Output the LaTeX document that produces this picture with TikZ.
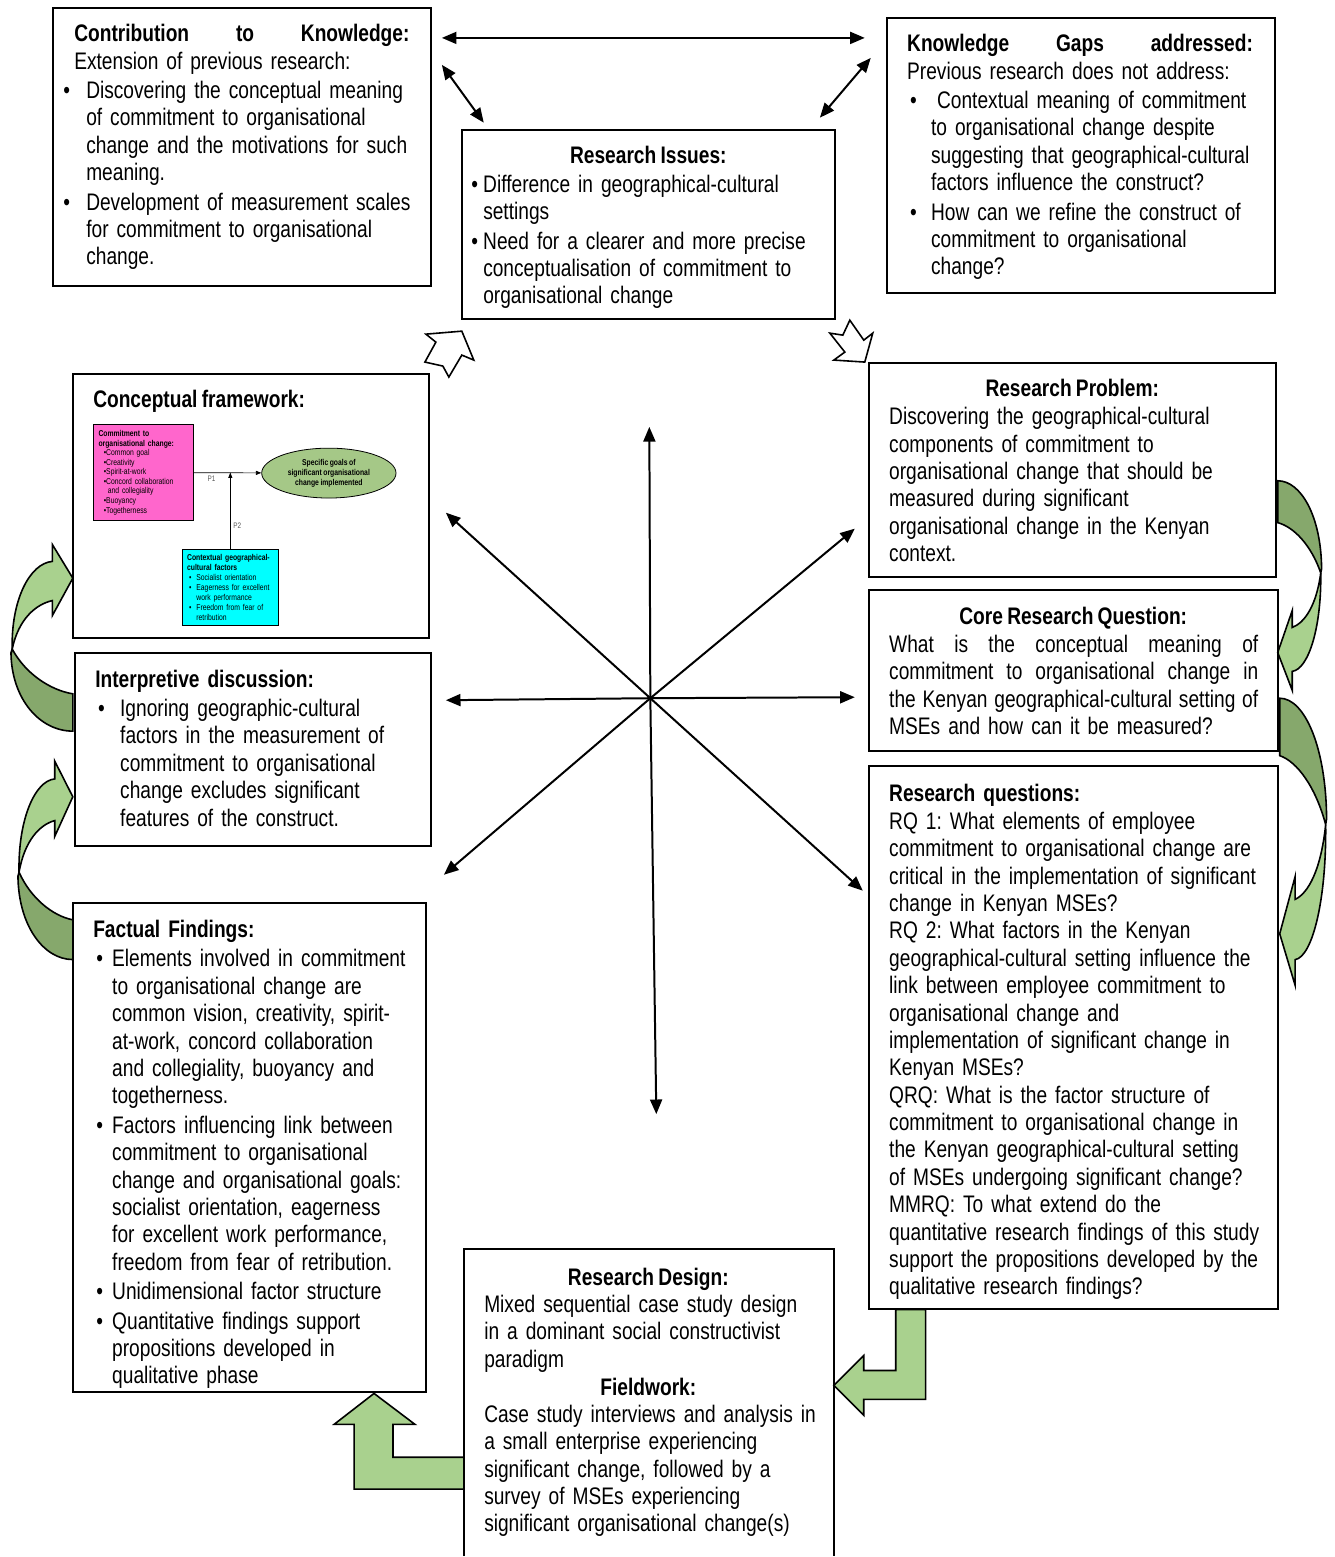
\documentclass[tikz,border=0pt]{standalone}
\usepackage{fontspec}
\setmainfont{Liberation Sans}[FakeStretch=0.80, WordSpace=0.8]
\usetikzlibrary{arrows.meta,shapes.geometric}
\frenchspacing

\definecolor{lightgreen}{RGB}{169,209,142}
\definecolor{darkgreen}{RGB}{134,168,108}
\definecolor{pinkbox}{RGB}{255,102,204}
\definecolor{cyanbox}{RGB}{0,255,255}
\definecolor{ovalgreen}{RGB}{165,200,135}

% justified line of a given width
\newcommand{\spreadline}[2]{\leavevmode\hbox to #1{\spaceskip=\fontdimen2\font plus 1fil\relax#2}}
% bullet item: bullet offset, text indent, lines
\newcommand{\bitem}[3]{\par\vspace{1.5pt}\noindent\rlap{\hspace*{#1}\textbullet}\hangindent=#2\hangafter=1\hspace*{#2}#3\par}
\newcommand{\bfirst}[3]{\noindent\rlap{\hspace*{#1}\textbullet}\hangindent=#2\hangafter=1\hspace*{#2}#3\par}
% curved green arrow, head on top, tail at the bottom
\newcommand{\swoosh}{%
\draw [line width=1.2, fill=darkgreen] (-0.98,0.56) .. controls (-0.77,0.69) and (-0.37,0.78) .. (0,0.80) -- (0,1) .. controls (-0.53,1) and (-0.99,0.83) .. (-1,0.58) -- cycle ;
\draw [line width=1.2, fill=lightgreen] (-0.98,0.56) .. controls (-1.0,0.3) and (-0.7,0.1) .. (-0.33,0.09) -- (-0.33,0) -- (0,0.18) -- (-0.33,0.38) -- (-0.33,0.30) .. controls (-0.6,0.32) and (-0.88,0.40) .. (-0.98,0.56) -- cycle ;
}

\tikzset{every picture/.style={line width=0.75pt}}

\begin{document}
\begin{tikzpicture}[x=0.75pt,y=0.75pt,yscale=-1,xscale=1,
  box/.style={line width=1.5},
  txt/.style={anchor=north west, inner sep=0pt, align=left, font={\fontsize{18}{20.6}\selectfont\parindent=0pt}},
  head/.style={anchor=base, inner sep=0pt, font={\fontsize{18}{20.6}\selectfont\bfseries}},
  tip/.style={line width=1.5, -{Triangle[length=11pt,width=9pt]}},
  dbltip/.style={line width=1.5, {Triangle[length=11pt,width=9pt]}-{Triangle[length=11pt,width=9pt]}},
  small/.style={font={\fontsize{6.4}{7.2}\selectfont\parindent=0pt}},
  lshape/.style={line width=1.2, fill=lightgreen}]
\path (0,0) rectangle (1338,1557); %set diagram size

%Curved Arrows
\begin{scope}[shift={(73,546)}, xscale=62, yscale=187] \swoosh \end{scope}
\begin{scope}[shift={(73,763)}, xscale=55, yscale=199] \swoosh \end{scope}
\begin{scope}[shift={(1281,692)}, xscale=-44, yscale=-210] \swoosh \end{scope}
\begin{scope}[shift={(1283,988)}, xscale=-47, yscale=-288] \swoosh \end{scope}

%Shape: Rectangle
\draw [box] (53,8) rectangle (432,287) ;
%Shape: Rectangle
\draw [box] (889,18) rectangle (1278,294) ;
%Shape: Rectangle
\draw [box] (463,130) rectangle (837,320) ;
%Shape: Rectangle
\draw [box] (73,375) rectangle (430,640) ;
%Shape: Rectangle
\draw [box] (871,364) rectangle (1279,578) ;
%Shape: Rectangle
\draw [box] (75,655) rectangle (432,848) ;
%Shape: Rectangle
\draw [box] (871,592) rectangle (1281,753) ;
%Shape: Rectangle
\draw [box] (871,768) rectangle (1281,1312) ;
%Shape: Rectangle
\draw [box] (73,905) rectangle (427,1396) ;
%Shape: Rectangle
\draw [box] (465,1560) -- (465,1252) -- (836,1252) -- (836,1560) ;

%Double Arrows
\coordinate (topL) at (443,38) ;
\coordinate (topR) at (867,38) ;
\draw [dbltip] (topL) -- (topR) ;
\coordinate (slantLa) at (443,65) ;
\coordinate (slantLb) at (485,123) ;
\draw [dbltip] (slantLa) -- (slantLb) ;
\coordinate (slantRa) at (873,58) ;
\coordinate (slantRb) at (822,118) ;
\draw [dbltip] (slantRa) -- (slantRb) ;

%Star of Arrows
\coordinate (hub) at (652,700) ;
\coordinate (rayN) at (651,428) ;
\coordinate (rayS) at (658,1117) ;
\coordinate (rayW) at (447,702) ;
\coordinate (rayE) at (857,699) ;
\coordinate (rayNW) at (447,514) ;
\coordinate (rayNE) at (857,530) ;
\coordinate (raySW) at (445,877) ;
\coordinate (raySE) at (865,893) ;
\draw [tip] (hub) -- (rayN) ;
\draw [tip] (hub) -- (rayS) ;
\draw [tip] (hub) -- (rayW) ;
\draw [tip] (hub) -- (rayE) ;
\draw [tip] (hub) -- (rayNW) ;
\draw [tip] (hub) -- (rayNE) ;
\draw [tip] (hub) -- (raySW) ;
\draw [tip] (hub) -- (raySE) ;

%Open Arrows
\draw [line width=1.2, fill=white] (427,335) -- (463,332) -- (475,361) -- (463,356) -- (450,378) -- (444,367) -- (426,363) -- (437,343) -- cycle ;
\draw [line width=1.2, fill=white] (852,321) -- (866,341) -- (875,334) -- (867,363) -- (836,361) -- (847,353) -- (832,334) -- (845,336) -- cycle ;

%Bent Arrows
\draw [lshape] (898,1313) -- (928,1313) -- (928,1403) -- (866,1403) -- (866,1419) -- (836,1389) -- (866,1359) -- (866,1374) -- (898,1374) -- cycle ;
\draw [lshape] (465,1461) -- (465,1493) -- (355,1493) -- (355,1428) -- (335,1428) -- (375,1397) -- (416,1428) -- (394,1428) -- (394,1461) -- cycle ;

% Text Node
\node [txt, text width=265pt] (contrib) at (74,24) {\spreadline{252pt}{\bfseries Contribution to Knowledge:}\\
Extension of previous research:
\bitem{-8.25pt}{9pt}{Discovering the conceptual meaning\newline of commitment to organisational\newline change and the motivations for such\newline meaning.}
\bitem{-8.25pt}{9pt}{Development of measurement scales\newline for commitment to organisational\newline change.}};
% Text Node
\node [txt, text width=276pt] (gaps) at (909,34) {\spreadline{260pt}{\bfseries Knowledge Gaps addressed:}\\
Previous research does not address:
\bitem{2.25pt}{18pt}{\hspace*{4.5pt}Contextual meaning of commitment\newline to organisational change despite\newline suggesting that geographical-cultural\newline factors influence the construct?}
\bitem{2.25pt}{18pt}{How can we refine the construct of\newline commitment to organisational\newline change?}};
% Text Node
\node [head] (issuesHead) at (650,164) {Research Issues:};
\node [txt, text width=272pt] (issues) at (472,175) {\bfirst{0pt}{9pt}{Difference in geographical-cultural\newline settings}
\bitem{0pt}{9pt}{Need for a clearer and more precise\newline conceptualisation of commitment to\newline organisational change}};
% Text Node
\node [txt] (frameHead) at (93,391) {\bfseries Conceptual framework:};
% Text Node
\node [head] (problemHead) at (1075,398) {Research Problem:};
\node [txt, text width=290pt] (problem) at (891,408) {Discovering the geographical-cultural\\
components of commitment to\\
organisational change that should be\\
measured during significant\\
organisational change in the Kenyan\\
context.};
% Text Node
\node [head] (coreHead) at (1076,626) {Core Research Question:};
\node [txt, text width=292pt] (core) at (891,636) {\spreadline{277.5pt}{What is the conceptual meaning of}\\
\spreadline{277.5pt}{commitment to organisational change in}\\
\spreadline{277.5pt}{the Kenyan geographical-cultural setting of}\\
MSEs and how can it be measured?};
% Text Node
\node [txt, text width=295pt] (questions) at (891,786) {\textbf{Research questions:}\\
RQ 1: What elements of employee\\
commitment to organisational change are\\
critical in the implementation of significant\\
change in Kenyan MSEs?\\
RQ 2: What factors in the Kenyan\\
geographical-cultural setting influence the\\
link between employee commitment to\\
organisational change and\\
implementation of significant change in\\
Kenyan MSEs?\\
QRQ: What is the factor structure of\\
commitment to organisational change in\\
the Kenyan geographical-cultural setting\\
of MSEs undergoing significant change?\\
MMRQ: To what extend do the\\
quantitative research findings of this study\\
support the propositions developed by the\\
qualitative research findings?};
% Text Node
\node [txt, text width=262pt] (interp) at (95,671) {\textbf{Interpretive discussion:}
\bitem{2.25pt}{18.75pt}{Ignoring geographic-cultural\newline factors in the measurement of\newline commitment to organisational\newline change excludes significant\newline features of the construct.}};
% Text Node
\node [txt, text width=262pt] (facts) at (93,922) {\textbf{Factual Findings:}
\bitem{2.25pt}{14.25pt}{Elements involved in commitment\newline to organisational change are\newline common vision, creativity, spirit-\newline at-work, concord collaboration\newline and collegiality, buoyancy and\newline togetherness.}
\bitem{2.25pt}{14.25pt}{Factors influencing link between\newline commitment to organisational\newline change and organisational goals:\newline socialist orientation, eagerness\newline for excellent work performance,\newline freedom from fear of retribution.}
\bitem{2.25pt}{14.25pt}{Unidimensional factor structure}
\bitem{2.25pt}{14.25pt}{Quantitative findings support\newline propositions developed in\newline qualitative phase}};
% Text Node
\node [head] (designHead) at (650,1289) {Research Design:};
\node [txt, text width=262pt] (design) at (485,1298) {Mixed sequential case study design\\
in a dominant social constructivist\\
paradigm};
\node [head] (fieldHead) at (650,1399) {Fieldwork:};
\node [txt, text width=262pt] (field) at (485,1408) {Case study interviews and analysis in\\
a small enterprise experiencing\\
significant change, followed by a\\
survey of MSEs experiencing\\
significant organisational change(s)};

%Small Framework Diagram
\node [small, draw, fill=pinkbox, line width=0.6, anchor=north west, minimum width=75pt, minimum height=72.5pt, text width=68pt, inner xsep=3.5pt, align=left] (commit) at (93.7,425) {\textbf{Commitment to\\ organisational change:}\\
\hspace*{4pt}\textbullet Common goal\\
\hspace*{4pt}\textbullet Creativity\\
\hspace*{4pt}\textbullet Spirit-at-work\\
\hspace*{4pt}\textbullet Concord collaboration\\
\hspace*{7pt}and collegiality\\
\hspace*{4pt}\textbullet Buoyancy\\
\hspace*{4pt}\textbullet Togetherness};
\node [small, draw, fill=cyanbox, line width=0.6, anchor=north west, minimum width=72.3pt, minimum height=57pt, text width=65pt, inner xsep=3.6pt, align=left, font={\fontsize{6.4}{7.5}\selectfont}] (context) at (182.3,550.7) {\textbf{Contextual geographical-\\ cultural factors}\\
\hspace*{1.5pt}\makebox[5.5pt][l]{\textbullet}Socialist orientation\\
\hspace*{1.5pt}\makebox[5.5pt][l]{\textbullet}Eagerness for excellent\\
\hspace*{7pt}work performance\\
\hspace*{1.5pt}\makebox[5.5pt][l]{\textbullet}Freedom from fear of\\
\hspace*{7pt}retribution};
\node [ellipse, draw, fill=ovalgreen, line width=0.6, minimum width=101pt, minimum height=37.5pt, inner sep=0pt, align=center, font={\fontsize{6.4}{7.4}\selectfont\bfseries}] (goals) at (329.7,474.3) {Specific goals of\\ significant organisational\\ change implemented};
\draw [line width=0.5, -{Triangle[length=4pt,width=3pt]}] (commit) -- (goals) ;
\draw [line width=0.5, -{Triangle[length=4pt,width=3pt]}] (context) -- (context.north |- commit.east) ;
\node [font={\fontsize{6}{7}\selectfont}, text={rgb,255:red,90;green,90;blue,90}, inner sep=0pt] (pOne) at (212,480) {P1};
\node [font={\fontsize{6}{7}\selectfont}, text={rgb,255:red,90;green,90;blue,90}, inner sep=0pt] (pTwo) at (238,527) {P2};

\end{tikzpicture}
\end{document}
